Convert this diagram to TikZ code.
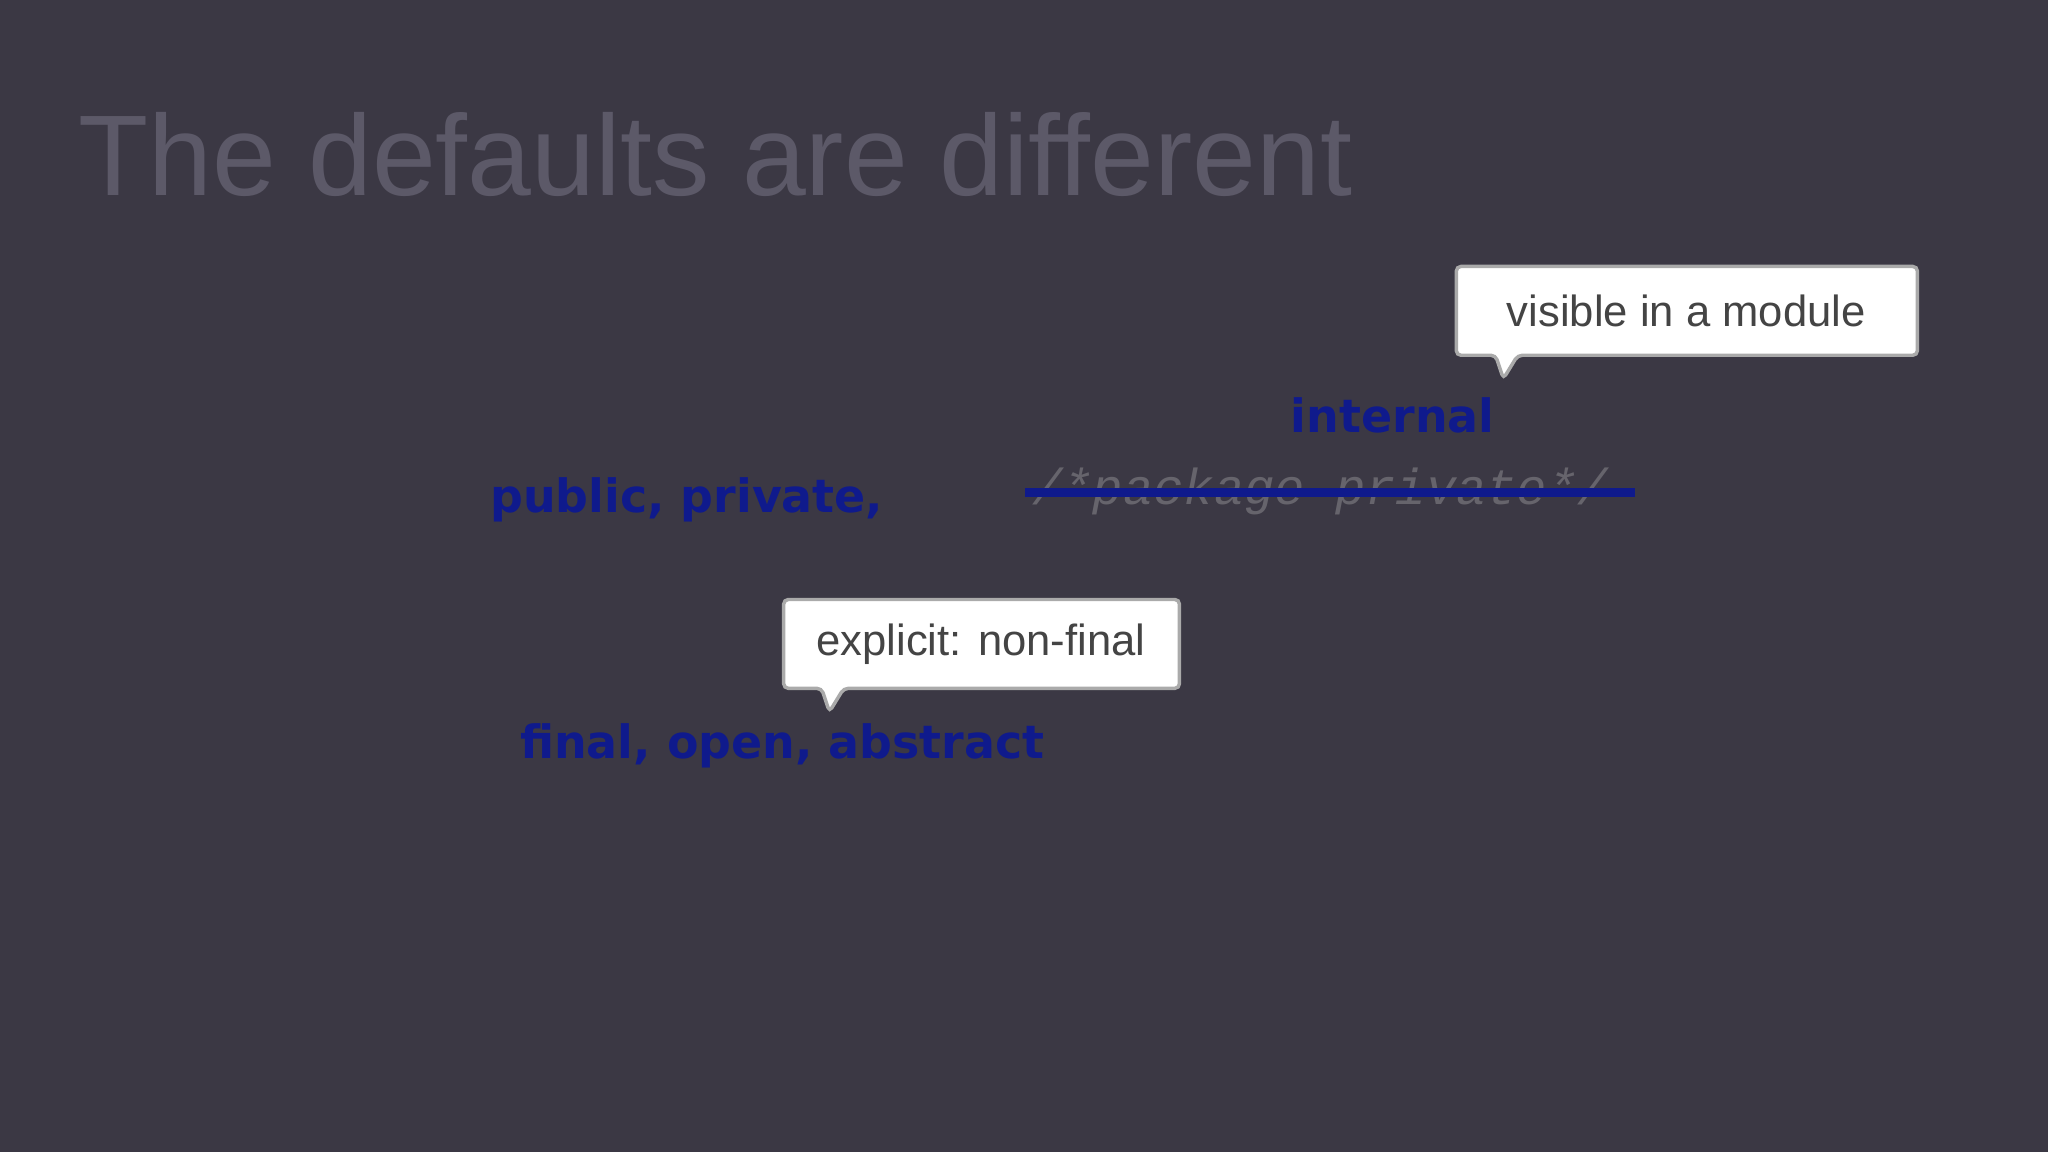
\documentclass[tikz,border=0pt]{standalone}
\usepackage{fontspec}
\setmainfont{Liberation Sans}
\newfontfamily\vfont{DejaVu Sans}
\newfontfamily\mfont{Liberation Mono}
\definecolor{bg}{HTML}{3B3844}
\definecolor{ttl}{HTML}{5C5968}
\definecolor{kw}{HTML}{0F1A8C}
\definecolor{cmt}{HTML}{66646C}
\definecolor{ctext}{HTML}{444444}
\definecolor{cbord}{HTML}{AAAAAA}
\tikzset{
  kwtext/.style={anchor=base west, inner sep=0pt, text=kw, font=\vfont\bfseries\fontsize{20}{24}\selectfont},
  calltext/.style={inner sep=0pt, text=ctext, font=\fontsize{19}{23}\selectfont},
  callbox/.style={fill=white, draw=cbord, line width=1.5pt, rounded corners=2pt},
}
\begin{document}
\begin{tikzpicture}[x=0.02cm,y=-0.02cm]
\fill[bg] (0,0) rectangle (1568,882);
\useasboundingbox (0,0) rectangle (1568,882);
\node[anchor=base west, inner sep=0pt, text=ttl, font=\fontsize{50}{60}\selectfont] (title) at (60,150) {The defaults are different};
\node[kwtext] (pub) at (375,392) {public, private,};
\node[kwtext] (int) at (988,331) {internal};
\node[kwtext] (fin) at (398,581) {final, open, abstract};
\node[anchor=base west, inner sep=0pt, text=cmt, font=\mfont\itshape\fontsize{22}{26}\selectfont] (pp) at (790,386) {/*package-private*/};
\coordinate (s1) at (785,377);
\coordinate (s2) at (1252,377);
\draw[kw, line width=4pt] (s1) -- (s2);
% callout 1
\draw[callbox] (1115,204) -- (1468,204) -- (1468,272) -- (1162,272) -- (1151,290) -- (1145,272) -- (1115,272) -- cycle;
\node[calltext] (c1) at (1291,238) {visible in a module};
% callout 2
\draw[callbox] (600,459) -- (903,459) -- (903,527) -- (646,527) -- (635,545) -- (629,527) -- (600,527) -- cycle;
\node[calltext] (c2) at (751,493) {explicit: non-final};
\end{tikzpicture}
\end{document}
